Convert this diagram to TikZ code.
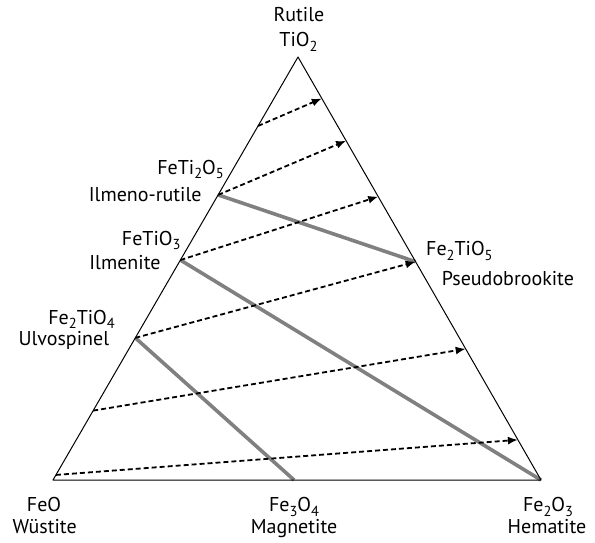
\documentclass[tikz,border=0pt]{standalone}
\usepackage{fontspec}
\setmainfont{PT Sans}
\usetikzlibrary{calc,arrows.meta}
\newcommand\sbs[1]{\raisebox{-4.5pt}{\fontsize{14.5}{14.5}\selectfont #1}}
\begin{document}
\begin{tikzpicture}[x=1pt,y=-1pt,
  lbl/.style={anchor=base,inner sep=0pt,font=\fontsize{20}{24}\selectfont},
  lblr/.style={lbl,anchor=base east},
  lbll/.style={lbl,anchor=base west},
  edge/.style={line width=1pt,line join=round},
  tie/.style={line width=3.6pt,draw={rgb,255:red,128;green,128;blue,128}},
  oxid/.style={line width=1.8pt,dash pattern=on 5pt off 3pt,-{Latex[length=10pt,width=8pt]}}]
\useasboundingbox (0,0) rectangle (595,543);
% vertices
\coordinate (T) at (298,57);
\coordinate (L) at (53,480);
\coordinate (R) at (541,480);
% compositions
\coordinate (fti2) at ($(L)!0.674!(T)$);
\coordinate (fti)  at ($(L)!0.520!(T)$);
\coordinate (f2ti) at ($(L)!0.336!(T)$);
\coordinate (f2ti5) at ($(R)!0.516!(T)$);
\coordinate (mag) at ($(L)!0.494!(R)$);
% arrow ends
\coordinate (s1) at ($(L)!0.837!(T)$);
\coordinate (s5) at ($(L)!0.164!(T)$);
\coordinate (s6) at ($(L)!0.012!(T)$);
\coordinate (e1) at ($(R)!0.902!(T)$);
\coordinate (e2) at ($(R)!0.802!(T)$);
\coordinate (e3) at ($(R)!0.670!(T)$);
\coordinate (e5) at ($(R)!0.310!(T)$);
\coordinate (e6) at ($(R)!0.095!(T)$);
% tie lines
\draw[tie] (fti2) -- (f2ti5);
\draw[tie] (fti) -- (R);
\draw[tie] (f2ti) -- (mag);
% oxidation arrows
\draw[oxid] (s1) -- (e1);
\draw[oxid] (fti2) -- (e2);
\draw[oxid] (fti) -- (e3);
\draw[oxid] (f2ti) -- (f2ti5);
\draw[oxid] (s5) -- (e5);
\draw[oxid] (s6) -- (e6);
% triangle
\draw[edge] (T) -- (L) -- (R) -- cycle;
% labels
\node[lbl] (rut) at (299,21.7) {Rutile};
\node[lbl] (tio2) at (298.5,47) {TiO\sbs{2}};
\node[lblr] (fti2t) at (224,174) {FeTi\sbs{2}O\sbs{5}};
\node[lblr] (ilmr) at (201.7,201.7) {Ilmeno-rutile};
\node[lblr] (ftit) at (180.7,245) {FeTiO\sbs{3}};
\node[lblr] (ilm) at (160.7,269) {Ilmenite};
\node[lbll] (f2ti5t) at (426,255.7) {Fe\sbs{2}TiO\sbs{5}};
\node[lbll] (pseu) at (441.7,285) {Pseudobrookite};
\node[lblr] (f2tit) at (115,324) {Fe\sbs{2}TiO\sbs{4}};
\node[lblr] (ulv) at (109.3,345) {Ulvospinel};
\node[lbl] (feo) at (44,511.7) {FeO};
\node[lbl] (wus) at (44.7,533) {Wüstite};
\node[lbl] (fe3o4) at (294,511.7) {Fe\sbs{3}O\sbs{4}};
\node[lbl] (magt) at (294,533) {Magnetite};
\node[lbl] (fe2o3) at (548,511.7) {Fe\sbs{2}O\sbs{3}};
\node[lbl] (hem) at (547,533) {Hematite};
\end{tikzpicture}
\end{document}
